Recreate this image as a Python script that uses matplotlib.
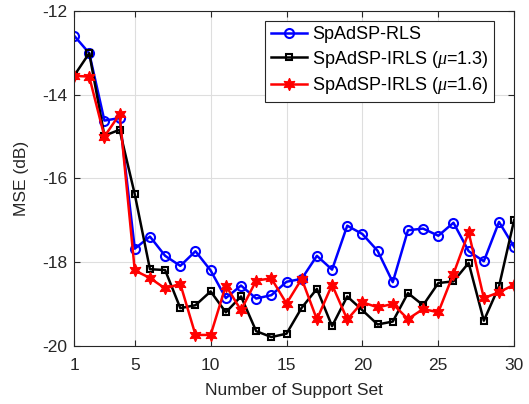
import numpy as np
import matplotlib
matplotlib.use("Agg")
import matplotlib.pyplot as plt

# === Données ===
x = np.arange(1, 31)

mse_rls = [-12.59, -13.01, -14.62, -14.56, -17.68, -17.39, -17.85, -18.09, -17.74, -18.20,
           -18.86, -18.56, -18.87, -18.79, -18.47, -18.40, -17.85, -18.18, -17.13, -17.33,
           -17.73, -18.48, -17.24, -17.20, -17.37, -17.06, -17.74, -17.98, -17.04, -17.64]

mse_irls_13 = [-13.55, -13.01, -14.98, -14.84, -16.38, -18.17, -18.19, -19.10, -19.03, -18.70,
               -19.20, -18.82, -19.65, -19.79, -19.71, -19.09, -18.64, -19.53, -18.82, -19.15,
               -19.49, -19.42, -18.74, -19.03, -18.50, -18.46, -18.02, -19.40, -18.58, -16.99]

mse_irls_16 = [-13.55, -13.57, -15.00, -14.47, -18.20, -18.38, -18.63, -18.52, -19.74, -19.74,
               -18.56, -19.15, -18.44, -18.39, -18.99, -18.40, -19.37, -18.54, -19.37, -18.96,
               -19.08, -19.00, -19.36, -19.12, -19.20, -18.28, -17.29, -18.86, -18.72, -18.54]

xticks = [1, 5, 10, 15, 20, 25, 30]
yticks = [-20, -18, -16, -14, -12]

# === Style ===
plt.rcParams["font.family"] = ["Liberation Sans", "DejaVu Sans"]
plt.rcParams["axes.unicode_minus"] = False
plt.rcParams["mathtext.fontset"] = "custom"
plt.rcParams["mathtext.it"] = "Liberation Serif:italic"

fig = plt.figure(figsize=(5.29, 4.04), dpi=100)
ax = fig.add_axes([0.140, 0.144, 0.832, 0.829])

ax.plot(x, mse_rls, color="blue", lw=1.8, marker="o", ms=6.5, mfc="none", mew=1.5,
        label="SpAdSP-RLS")
ax.plot(x, mse_irls_13, color="black", lw=1.8, marker="s", ms=5, mfc="none", mew=1.5,
        label=r"SpAdSP-IRLS ($\mu$=1.3)")
ax.plot(x, mse_irls_16, color="red", lw=1.8, marker=(6, 1, 0), ms=9, mfc="red", mew=0.8,
        label=r"SpAdSP-IRLS ($\mu$=1.6)")

ax.set_xlim(1, 30)
ax.set_ylim(-20, -12)
ax.set_xticks(xticks)
ax.set_yticks(yticks)
ax.tick_params(direction="in", top=True, right=True, labelsize=12.5, length=4,
               colors="#262626", width=0.8)
ax.tick_params(axis="x", pad=9)
ax.tick_params(axis="y", pad=5)
for s in ax.spines.values():
    s.set_color("#262626")
    s.set_linewidth(0.8)
ax.grid(True, color="#dedede", lw=0.8)
ax.set_axisbelow(True)

ax.set_xlabel("Number of Support Set", fontsize=12.5, color="#262626", labelpad=7)
ax.set_ylabel("MSE (dB)", fontsize=12.5, color="#262626", labelpad=9)

leg = ax.legend(loc="upper right", bbox_to_anchor=(0.955, 0.970), fontsize=13,
                fancybox=False, framealpha=1, edgecolor="#262626",
                handlelength=2.0, handletextpad=0.3, borderpad=0.3,
                labelspacing=0.3, borderaxespad=0)
leg.get_frame().set_linewidth(0.8)

fig.savefig("out.png", dpi=100)
